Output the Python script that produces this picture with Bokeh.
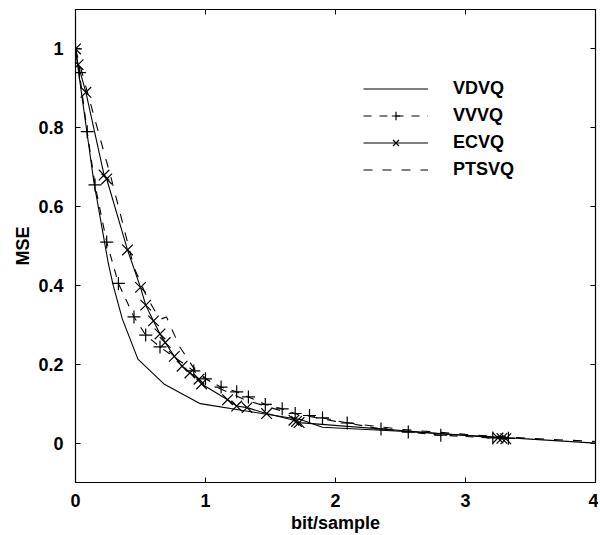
from bokeh.plotting import figure
from bokeh.models import LinearAxis, Range1d, Legend, LegendItem, FixedTicker
from bokeh.embed import file_html
from bokeh.resources import INLINE

# ---- data ----
vdvq_x = [0, 0.02, 0.14, 0.25, 0.29, 0.36, 0.48, 0.68, 0.96, 1.3, 1.73, 1.9, 2.5, 3.0, 3.5, 4.0]
vdvq_y = [1.0, 0.95, 0.665, 0.46, 0.40, 0.315, 0.213, 0.15, 0.10, 0.082, 0.06, 0.04, 0.03, 0.02, 0.01, 0.0]

vvvq_x = [0, 0.03, 0.09, 0.15, 0.24, 0.33, 0.45, 0.54, 0.65, 0.91, 1.0, 1.12, 1.24, 1.33, 1.46,
          1.59, 1.69, 1.80, 1.90, 2.09, 2.35, 2.56, 2.81, 3.21, 3.33]
vvvq_y = [1.0, 0.94, 0.79, 0.655, 0.51, 0.405, 0.32, 0.274, 0.244, 0.183, 0.163, 0.142, 0.13, 0.117, 0.098,
          0.087, 0.075, 0.07, 0.064, 0.051, 0.036, 0.028, 0.02, 0.013, 0.012]

ecvq_x = [0, 0.02, 0.08, 0.22, 0.24, 0.40, 0.50, 0.54, 0.60, 0.65, 0.69, 0.76, 0.82, 0.88, 0.95, 0.97,
          1.17, 1.24, 1.32, 1.47, 1.68, 1.70, 1.72, 3.25, 3.28, 3.31]
ecvq_y = [1.0, 0.96, 0.89, 0.68, 0.67, 0.49, 0.395, 0.35, 0.31, 0.277, 0.255, 0.22, 0.195, 0.178, 0.162, 0.15,
          0.11, 0.094, 0.09, 0.075, 0.058, 0.055, 0.052, 0.013, 0.012, 0.011]

ptsvq_x = [0, 0.1, 0.28, 0.45, 0.55, 0.62, 0.66, 0.70, 0.80, 0.92, 1.1, 1.3, 1.6, 2.0, 2.5, 3.0, 3.5, 4.0]
ptsvq_y = [1.0, 0.88, 0.665, 0.445, 0.37, 0.33, 0.315, 0.32, 0.245, 0.185, 0.14, 0.11, 0.08, 0.055, 0.035, 0.022, 0.012, 0.004]

x_ticks = [0, 1, 2, 3, 4]
x_tick_labels = ["0", "1", "2", "3", "4"]
y_ticks = [0, 0.2, 0.4, 0.6, 0.8, 1.0]
y_tick_labels = ["0", "0.2", "0.4", "0.6", "0.8", "1"]

FONT = "Liberation Sans"

p = figure(width=598, height=535, x_range=Range1d(0, 4), y_range=Range1d(-0.1, 1.1),
           output_backend="svg", toolbar_location=None,
           min_border_left=75, min_border_top=9, min_border_right=3, min_border_bottom=50)
p.background_fill_color = "white"
p.border_fill_color = "white"
p.outline_line_color = "black"
p.outline_line_width = 1.2
p.xgrid.visible = False
p.ygrid.visible = False

def style_axis(ax, ticks, labels=None):
    ax.ticker = FixedTicker(ticks=ticks)
    ax.major_tick_in = 5
    ax.major_tick_out = 0
    ax.minor_tick_in = 0
    ax.minor_tick_out = 0
    ax.major_tick_line_color = "black"
    ax.axis_line_color = "black"
    if labels is None:
        ax.major_label_overrides = {t: "" for t in ticks}
        ax.major_label_text_font_size = "1px"
        ax.major_label_standoff = 0
        ax.axis_line_color = None
    else:
        ax.major_label_overrides = {t: l for t, l in zip(ticks, labels)}
        ax.major_label_text_font = FONT
        ax.major_label_text_font_style = "bold"
        ax.major_label_text_font_size = "18px"
        ax.major_label_text_color = "black"

style_axis(p.xaxis[0], x_ticks, x_tick_labels)
style_axis(p.yaxis[0], y_ticks, y_tick_labels)
p.xaxis[0].major_label_standoff = 11
p.yaxis[0].major_label_standoff = 12
p.xaxis.axis_label = "bit/sample"
p.yaxis.axis_label = "MSE"
for ax in (p.xaxis[0], p.yaxis[0]):
    ax.axis_label_text_font = FONT
    ax.axis_label_text_font_style = "bold"
    ax.axis_label_text_font_size = "18px"
    ax.axis_label_text_color = "black"
    ax.axis_label_standoff = 2
p.xaxis[0].axis_label_standoff = 3

top = LinearAxis()
style_axis(top, x_ticks)
p.add_layout(top, "above")
right = LinearAxis()
style_axis(right, y_ticks)
p.add_layout(right, "right")

r_vdvq = p.line(vdvq_x, vdvq_y, line_color="black", line_width=1.1)
r_vvvq_l = p.line(vvvq_x, vvvq_y, line_color="black", line_width=1.1, line_dash="8 8")
r_vvvq_m = p.scatter(vvvq_x, vvvq_y, marker="cross", size=13, line_color="black", line_width=1.2)
r_ecvq_l = p.line(ecvq_x, ecvq_y, line_color="black", line_width=1.1)
r_ecvq_m = p.scatter(ecvq_x, ecvq_y, marker="x", size=15, line_color="black", line_width=1.2)
r_ptsvq = p.line(ptsvq_x, ptsvq_y, line_color="black", line_width=1.1, line_dash="9 10")

legend = Legend(items=[
    LegendItem(label="VDVQ", renderers=[r_vdvq]),
    LegendItem(label="VVVQ", renderers=[r_vvvq_l, r_vvvq_m]),
    LegendItem(label="ECVQ", renderers=[r_ecvq_l, r_ecvq_m]),
    LegendItem(label="PTSVQ", renderers=[r_ptsvq]),
], location=(288, 302))
legend.border_line_color = None
legend.background_fill_alpha = 0
legend.glyph_width = 65
legend.glyph_height = 21
legend.label_standoff = 25
legend.spacing = 6
legend.padding = 0
legend.margin = 0
legend.label_text_font = FONT
legend.label_text_font_style = "bold"
legend.label_text_font_size = "18px"
legend.label_text_color = "black"
legend.label_height = 21
p.add_layout(legend)

open("out.html", "w").write(file_html(p, INLINE))
